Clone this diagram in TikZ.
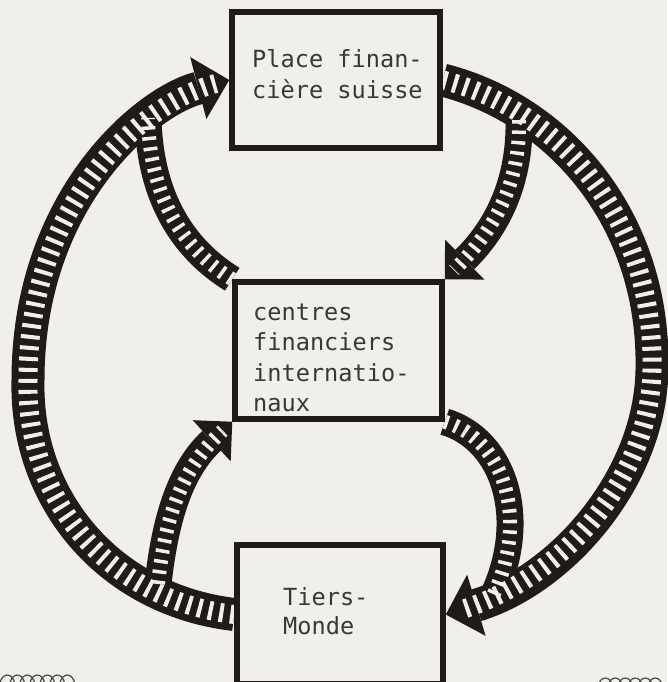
\documentclass[tikz,border=0pt]{standalone}
\usepackage{fontspec}
\newfontfamily\typew{DejaVu Sans Mono}
\usetikzlibrary{arrows.meta,decorations.pathmorphing}
\definecolor{paper}{HTML}{F1EFEA}
\definecolor{ink}{HTML}{1E1B19}
\definecolor{txt}{HTML}{3A3836}
\tikzset{
  box/.style={draw=ink, fill=paper, line width=5.5pt, rectangle, inner sep=0pt},
  lbl/.style={inner sep=0pt, align=left, text=txt, font=\typew\fontsize{23.6pt}{31pt}\selectfont},
  bandbig/.style={draw=ink, line width=33pt},
  bandsmall/.style={draw=ink, line width=27pt},
  hatchbig/.style={draw=paper, line width=19pt, dash pattern=on 4pt off 7pt},
  hatchsmall/.style={draw=paper, line width=14pt, dash pattern=on 3.5pt off 7pt},
  tipbig/.style={-{Triangle[length=32pt,width=64pt,line width=0pt]}},
  tipsmall/.style={-{Triangle[length=28pt,width=56pt,line width=0pt]}},
  squig/.style={draw=ink!80, line width=1.2pt, decorate,
    decoration={coil, aspect=0.6, segment length=10pt, amplitude=8pt}}
}
\begin{document}
\begin{tikzpicture}[x=1pt,y=-1pt]
\fill[paper] (0,0) rectangle (667,682);
\useasboundingbox (0,0) rectangle (667,682);

% box positions (drawn later, on top)
\path (336,80) node[box, minimum width=208pt, minimum height=136pt, draw=none, fill=none] (P) {};
\path (338.5,350.5) node[box, minimum width=207pt, minimum height=137pt, draw=none, fill=none] (C) {};
\path (340,614.5) node[box, minimum width=206pt, minimum height=139pt, draw=none, fill=none] (T) {};

\coordinate (rs) at (519,120);
\coordinate (rm) at (492,598);
\coordinate (lm) at (148,118);
\coordinate (ls) at (158,584);

% black bands
\draw[bandbig, tipbig] (T.west) .. controls (110,600) and (25,500) .. (28,380)
   .. controls (28,200) and (145,102) .. (P.west);
\draw[bandbig, tipbig] (P.east) .. controls (560,110) and (655,220) .. (652,370)
   .. controls (650,480) and (560,580) .. (T.east);
\draw[bandsmall, tipsmall] (rs) .. controls (520,170) and (505,220) .. (C.north east);
\draw[bandsmall] (C.south east) .. controls (505,440) and (530,520) .. (rm);
\draw[bandsmall] (C.north west) .. controls (185,250) and (150,200) .. (lm);
\draw[bandsmall, tipsmall] (ls) .. controls (165,520) and (180,470) .. (C.south west);

% white hatching
\draw[hatchbig, shorten >=14pt] (T.west) .. controls (110,600) and (25,500) .. (28,380)
   .. controls (28,200) and (145,102) .. (P.west);
\draw[hatchbig, shorten >=14pt] (P.east) .. controls (560,110) and (655,220) .. (652,370)
   .. controls (650,480) and (560,580) .. (T.east);
\draw[hatchsmall, shorten >=13pt] (rs) .. controls (520,170) and (505,220) .. (C.north east);
\draw[hatchsmall] (C.south east) .. controls (505,440) and (530,520) .. (rm);
\draw[hatchsmall] (C.north west) .. controls (185,250) and (150,200) .. (lm);
\draw[hatchsmall, shorten >=13pt] (ls) .. controls (165,520) and (180,470) .. (C.south west);

% boxes
\node[box, minimum width=208pt, minimum height=136pt] (Pbox) at (P) {};
\node[box, minimum width=207pt, minimum height=137pt] (Cbox) at (C) {};
\node[box, minimum width=206pt, minimum height=139pt] (Tbox) at (T) {};

% texts (base = baseline of the last line)
\node[lbl, anchor=base west] (Ptxt) at (252,99) {Place finan-\\cière suisse};
\node[lbl, anchor=base west, font=\typew\fontsize{23.6pt}{30.5pt}\selectfont] (Ctxt) at (253,411.5) {centres\\financiers\\internatio-\\naux};
\node[lbl, anchor=base west, font=\typew\fontsize{23.6pt}{29pt}\selectfont] (Ttxt) at (283,634) {Tiers-\\Monde};

% fragments at the lower edge
\draw[squig] (0,683) -- (80,683);
\draw[squig] (598,686) -- (667,686);
\end{tikzpicture}
\end{document}
